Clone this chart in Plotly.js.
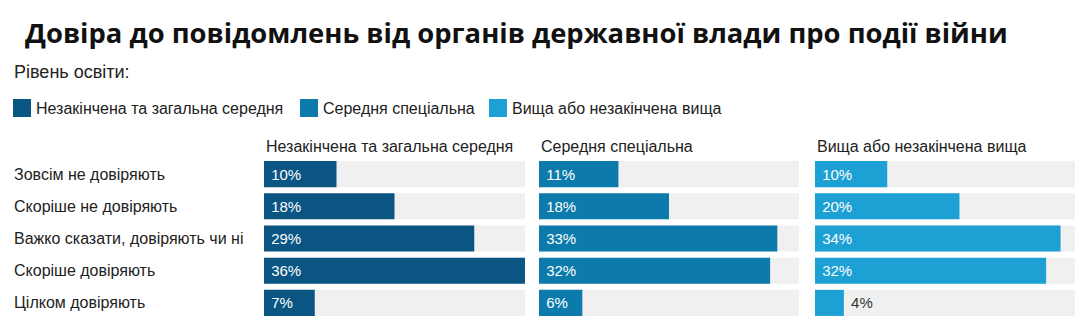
<!DOCTYPE html>
<html><head><meta charset="utf-8">
<script src="https://cdn.plot.ly/plotly-3.0.1.min.js"></script>
<style>html,body{margin:0;padding:0;background:#fff}#chart{width:1088px;height:334px}</style>
</head><body><div id="chart"></div>
<script>
// ---- data ----
const categories = ["Зовсім не довіряють", "Скоріше не довіряють", "Важко сказати, довіряють чи ні", "Скоріше довіряють", "Цілком довіряють"];
const groups = ["Незакінчена та загальна середня", "Середня спеціальна", "Вища або незакінчена вища"];
const valuesIncomplete = [10, 18, 29, 36, 7];
const valuesSpecial = [11, 18, 33, 32, 6];
const valuesHigher = [10, 20, 34, 32, 4];
const titleText = "Довіра до повідомлень від органів державної влади про події війни";
const subtitleText = "Рівень освіти:";

// ---- styles ----
const colors = ["#0b5583", "#0c7bab", "#1da0d3"];
const W = 1088, H = 334, TOP = 158, BOTTOM = 319;
const px2x = p => p / W;
const px2y = p => (BOTTOM - p) / (BOTTOM - TOP);
const domainsPx = [[264, 525], [539, 799], [815, 1075]];
const legendX = [13, 300, 489];
const FONT = "Liberation Sans, Arial, sans-serif";
const LABEL_SIZE = 16;

const series = [valuesIncomplete, valuesSpecial, valuesHigher];
const maxVal = Math.max(...series.flat());

const traces = [];
const layout = {
  width: W, height: H,
  margin: {l: 0, r: 0, t: TOP, b: H - BOTTOM},
  paper_bgcolor: "#fff", plot_bgcolor: "#fff",
  barmode: "overlay", bargap: 0.19,
  showlegend: false,
  font: {family: FONT, size: LABEL_SIZE, color: "#222"},
  title: {
    text: titleText, xref: "paper", x: px2x(25), xanchor: "left",
    yref: "container", y: 1 - 33 / H, yanchor: "middle",
    font: {family: "Open Sans, sans-serif", size: 27.4, weight: 700, color: "#111"}
  },
  yaxis: {type: "category", range: [categories.length - 0.5, -0.5], showticklabels: false,
          showgrid: false, zeroline: false, fixedrange: true},
  annotations: [], shapes: []
};

series.forEach((vals, i) => {
  const ax = i === 0 ? "x" : "x" + (i + 1);
  const axName = i === 0 ? "xaxis" : "xaxis" + (i + 1);
  layout[axName] = {domain: [px2x(domainsPx[i][0]), px2x(domainsPx[i][1])], range: [0, maxVal],
                    visible: false, anchor: "y", fixedrange: true};
  traces.push({
    type: "bar", orientation: "h", x: categories.map(() => maxVal), y: categories,
    xaxis: ax, yaxis: "y", marker: {color: "#f0f0f0"}, hoverinfo: "skip"
  });
  traces.push({
    type: "bar", orientation: "h", x: vals, y: categories, name: groups[i],
    xaxis: ax, yaxis: "y", marker: {color: colors[i]},
    texttemplate: "\u00a0%{x}%",
    textposition: vals.map(v => v < 5 ? "outside" : "inside"),
    insidetextanchor: "start", constraintext: "none", cliponaxis: false,
    insidetextfont: {family: FONT, size: 15, color: "#fff"},
    outsidetextfont: {family: FONT, size: 15, color: "#333"}
  });
  // panel header
  layout.annotations.push({
    text: groups[i], xref: "paper", yref: "paper", x: px2x(domainsPx[i][0]), y: px2y(146),
    xanchor: "left", yanchor: "middle", showarrow: false,
    font: {family: FONT, size: LABEL_SIZE, color: "#222"}
  });
  // legend
  layout.shapes.push({
    type: "rect", xref: "paper", yref: "paper",
    x0: px2x(legendX[i]), x1: px2x(legendX[i] + 18), y0: px2y(117), y1: px2y(99),
    fillcolor: colors[i], line: {width: 0}
  });
  layout.annotations.push({
    text: groups[i], xref: "paper", yref: "paper", x: px2x(legendX[i] + 21), y: px2y(108),
    xanchor: "left", yanchor: "middle", showarrow: false,
    font: {family: FONT, size: LABEL_SIZE, color: "#222"}
  });
});

// category labels
categories.forEach(c => {
  layout.annotations.push({
    text: c, xref: "paper", yref: "y", x: px2x(12), y: c,
    xanchor: "left", yanchor: "middle", showarrow: false,
    font: {family: FONT, size: LABEL_SIZE, color: "#222"}
  });
});

// subtitle
layout.annotations.push({
  text: subtitleText, xref: "paper", yref: "paper", x: px2x(12), y: px2y(72),
  xanchor: "left", yanchor: "middle", showarrow: false,
  font: {family: FONT, size: 18, color: "#222"}
});

Plotly.newPlot("chart", traces, layout, {displayModeBar: false, staticPlot: true});
</script>
</body></html>
